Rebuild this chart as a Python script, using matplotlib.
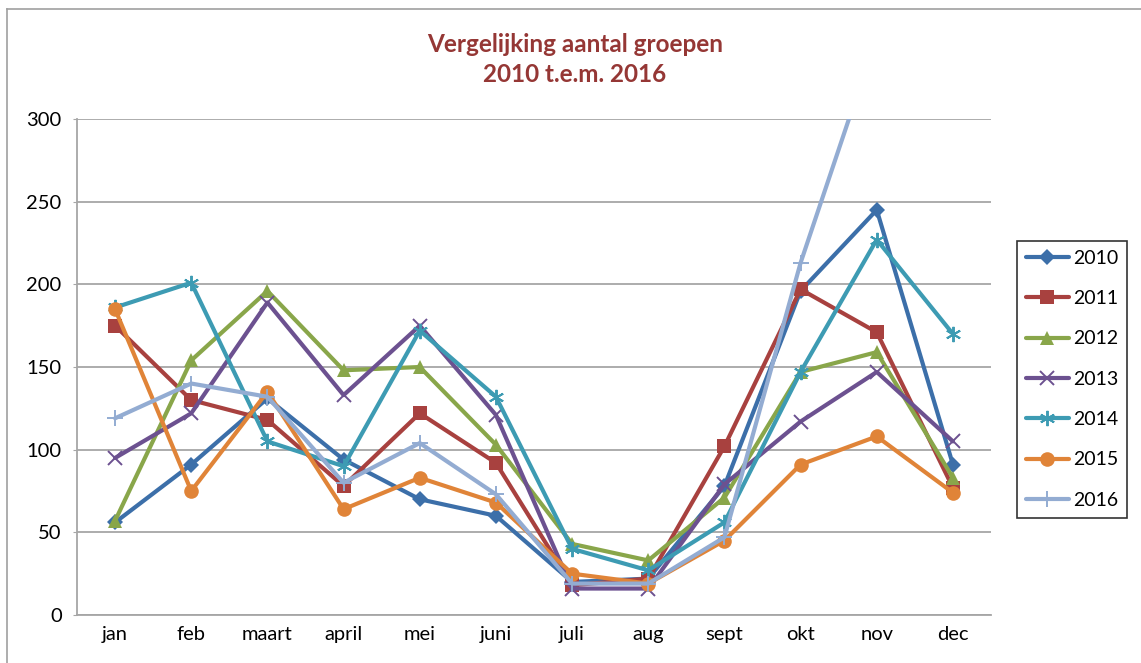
import matplotlib
matplotlib.use("Agg")
import matplotlib.pyplot as plt
from matplotlib.lines import Line2D
import numpy as np

plt.rcParams['font.family'] = ['Lato', 'DejaVu Sans']

months = ["jan", "feb", "maart", "april", "mei", "juni", "juli", "aug", "sept", "okt", "nov", "dec"]
y2010 = [56, 91, 131, 94, 70, 60, 20, 22, 78, 196, 245, 91]
y2011 = [175, 130, 118, 78, 122, 92, 18, 22, 102, 197, 171, 77]
y2012 = [57, 154, 196, 148, 150, 103, 43, 33, 71, 147, 159, 83]
y2013 = [95, 122, 189, 133, 175, 121, 16, 16, 79, 117, 147, 105]
y2014 = [186, 201, 105, 90, 172, 132, 40, 27, 56, 147, 227, 170]
y2015 = [185, 75, 135, 64, 83, 68, 25, 19, 45, 91, 108, 74]
y2016 = [119, 140, 132, 80, 104, 73, 19, 19, 47, 213, 350, np.nan]

series = [
    ("2010", y2010, "#3C6FA9", "D", 8, False),
    ("2011", y2011, "#A8413F", "s", 9.5, False),
    ("2012", y2012, "#89A64A", "^", 10.5, False),
    ("2013", y2013, "#6C5190", "x", 10, True),
    ("2014", y2014, "#3D9BB3", (6, 2, 0), 11, True),
    ("2015", y2015, "#E08438", "o", 10.5, False),
    ("2016", y2016, "#93ACD2", "+", 12, True),
]

fig = plt.figure(figsize=(11.41, 6.63), dpi=100)
ax = fig.add_axes([77/1141, 48/663, (991-77)/1141, 496/663])

# chart-area border (left and top edges visible in the reference)
fig.add_artist(Line2D([7/1141, 7/1141], [0, 1 - 9/663], transform=fig.transFigure, color='#A0A0A0', lw=1.2))
fig.add_artist(Line2D([7/1141, 1], [1 - 9/663, 1 - 9/663], transform=fig.transFigure, color='#A0A0A0', lw=1.2))

x = np.arange(len(months))
for name, vals, col, mk, ms, thin in series:
    kw = dict(markeredgewidth=1.4) if thin else dict(markeredgewidth=0)
    ax.plot(x, vals, color=col, lw=3.0, marker=mk, markersize=ms,
            markerfacecolor=col, markeredgecolor=col, label=name,
            solid_joinstyle='round', solid_capstyle='round', **kw)

ax.set_xlim(-0.5, 11.5)
ax.set_ylim(0, 300)
ax.set_yticks(range(0, 301, 50))
ax.set_xticks(x)
ax.set_xticklabels(months)
ax.grid(axis='y', color='#A6A6A6', lw=1.3)
ax.set_axisbelow(True)
for s in ['top', 'right']:
    ax.spines[s].set_visible(False)
for s in ['left', 'bottom']:
    ax.spines[s].set_color('#A6A6A6')
    ax.spines[s].set_linewidth(1.3)
ax.tick_params(axis='y', length=3, color='#A6A6A6', labelsize=14.5, pad=8)
ax.tick_params(axis='x', length=0, labelsize=14.5, pad=8)

leg = ax.legend(loc='upper left', bbox_to_anchor=(1017/1141, 1 - 241/663), bbox_transform=fig.transFigure,
                frameon=True, fancybox=False, edgecolor='black', fontsize=14,
                handlelength=2.2, handletextpad=0.25, labelspacing=1.2, borderpad=0.45,
                borderaxespad=0)
leg.get_frame().set_linewidth(1.2)

fig.text(575/1141, 1 - 44/663, "Vergelijking aantal groepen", ha='center', va='center',
         fontsize=17.5, fontweight='bold', color='#953735')
fig.text(575/1141, 1 - 75/663, "2010 t.e.m. 2016", ha='center', va='center',
         fontsize=17.5, fontweight='bold', color='#953735')

fig.savefig("out.png", dpi=100)
